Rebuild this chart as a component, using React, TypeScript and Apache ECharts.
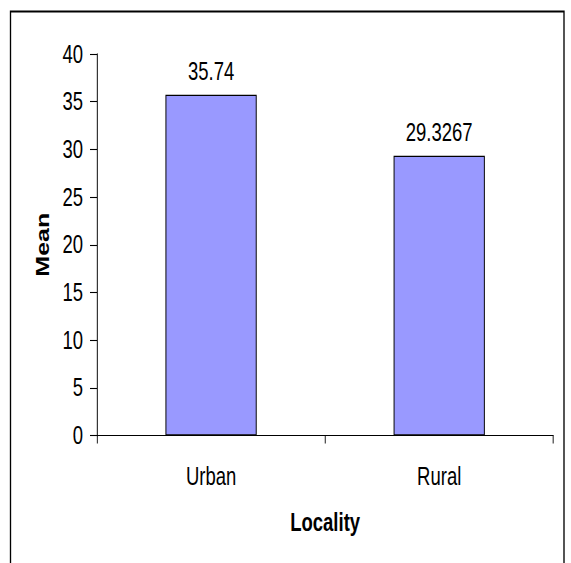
import React, { useEffect, useRef } from "react";
import * as echarts from "echarts";

const categories = ["Urban", "Rural"];
const meanValues = [35.74, 29.3267];
const valueLabels = ["35.74", "29.3267"];
const yMin = 0;
const yMax = 40;
const yInterval = 5;

// The reference is a horizontally condensed rendering;
// the chart is drawn wider and squeezed horizontally by this factor.
const SQUEEZE = 0.74;
const PAGE_W = 571;
const PAGE_H = 563;
const FONT = "'Liberation Sans', Arial, sans-serif";
const sx = (v: number) => v / SQUEEZE;

export default function App() {
  const ref = useRef<HTMLDivElement>(null);
  useEffect(() => {
    if (!ref.current) return;
    const chart = echarts.init(ref.current, undefined, { renderer: "svg" });
    chart.setOption({
      animation: false,
      backgroundColor: "#ffffff",
      graphic: [
        {
          type: "rect",
          shape: { x: sx(10.5), y: 11.5, width: sx(553.5), height: 600 },
          style: { fill: "none", stroke: "#000", lineWidth: 1.8 },
          silent: true,
          z: 100,
        },
      ],
      grid: { left: sx(97), right: sx(18), top: 54, bottom: 127.5, containLabel: false },
      xAxis: {
        type: "category",
        data: categories,
        boundaryGap: true,
        axisLine: { show: true, lineStyle: { color: "#000", width: 1.1 } },
        axisTick: { show: true, alignWithLabel: false, length: 8, lineStyle: { color: "#000", width: 1.2 } },
        axisLabel: { margin: 28.5, fontFamily: FONT, fontSize: 25, color: "#000" },
        name: "Locality",
        nameLocation: "middle",
        nameGap: 74.5,
        nameTextStyle: { fontFamily: FONT, fontSize: 25, fontWeight: "bold", color: "#000" },
        splitLine: { show: false },
      },
      yAxis: {
        type: "value",
        min: yMin,
        max: yMax,
        interval: yInterval,
        axisLine: { show: true, lineStyle: { color: "#000", width: 1.3 } },
        axisTick: { show: true, length: sx(7), lineStyle: { color: "#000", width: 1.1 } },
        axisLabel: { margin: sx(14), fontFamily: FONT, fontSize: 25, color: "#000" },
        splitLine: { show: false },
        name: "Mean",
        nameLocation: "middle",
        nameGap: sx(45),
        nameRotate: 90,
        nameTextStyle: { fontFamily: FONT, fontSize: 25, fontWeight: "bold", color: "#000" },
      },
      series: [
        {
          type: "bar",
          data: meanValues,
          barWidth: "40%",
          itemStyle: { color: "#9999FF", borderColor: "#000", borderWidth: 1.3 },
          label: {
            show: true,
            position: "top",
            distance: 11,
            fontFamily: FONT,
            fontSize: 25,
            color: "#000",
            formatter: (p: any) => valueLabels[p.dataIndex],
          },
        },
      ],
    });
    return () => chart.dispose();
  }, []);
  return (
    <div
      style={{
        position: "absolute",
        left: 0,
        top: 0,
        width: PAGE_W,
        height: PAGE_H,
        overflow: "hidden",
      }}
    >
      <div
        ref={ref}
        style={{
          width: sx(PAGE_W),
          height: PAGE_H,
          transform: `scaleX(${SQUEEZE})`,
          transformOrigin: "0 0",
        }}
      />
    </div>
  );
}
